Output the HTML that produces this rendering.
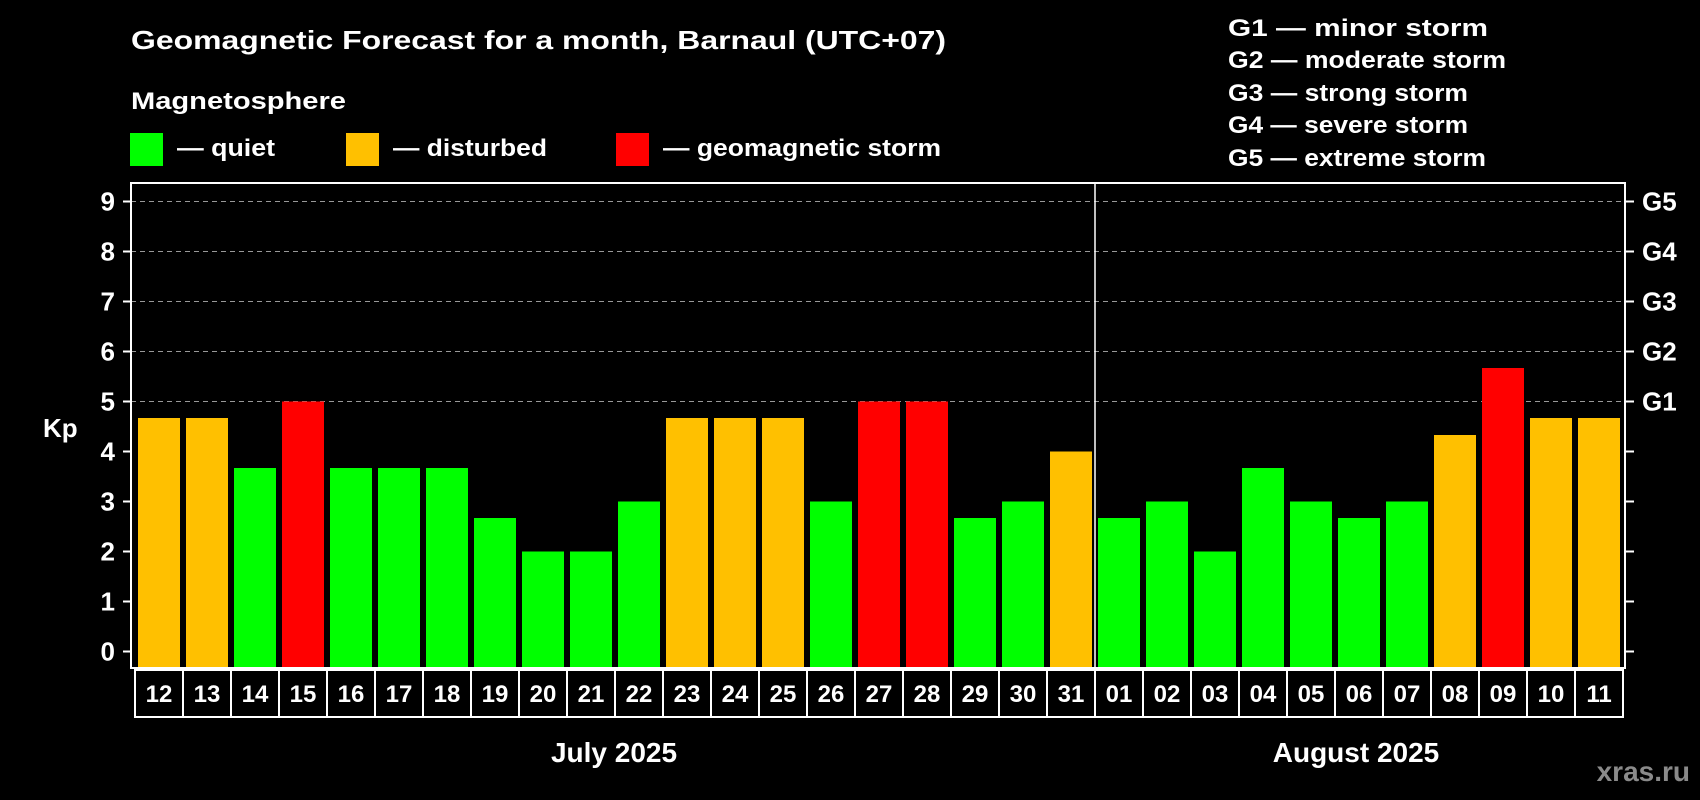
<!DOCTYPE html>
<html><head><meta charset="utf-8"><style>
html,body{margin:0;padding:0;background:#000;}
svg{display:block;font-family:"Liberation Sans",Arial,sans-serif;font-weight:bold;}
</style></head><body>
<svg id="chart" width="1700" height="800" viewBox="0 0 1700 800" xmlns="http://www.w3.org/2000/svg">
<rect width="1700" height="800" fill="#000"/>
<text x="131" y="49" fill="#fff" font-size="26" textLength="815" lengthAdjust="spacingAndGlyphs">Geomagnetic Forecast for a month, Barnaul (UTC+07)</text>
<text x="131" y="109" fill="#fff" font-size="24" textLength="215" lengthAdjust="spacingAndGlyphs">Magnetosphere</text>
<g>
<rect x="130" y="133" width="33" height="33" fill="#00ff00"/>
<text x="177" y="156" fill="#fff" font-size="24" textLength="98" lengthAdjust="spacingAndGlyphs">— quiet</text></g>
<g>
<rect x="346" y="133" width="33" height="33" fill="#ffc000"/>
<text x="393" y="156" fill="#fff" font-size="24" textLength="154" lengthAdjust="spacingAndGlyphs">— disturbed</text></g>
<g>
<rect x="616" y="133" width="33" height="33" fill="#ff0000"/>
<text x="663" y="156" fill="#fff" font-size="24" textLength="278" lengthAdjust="spacingAndGlyphs">— geomagnetic storm</text></g>
<g fill="#fff" font-size="24">
<text x="1228" y="36" textLength="260" lengthAdjust="spacingAndGlyphs">G1 — minor storm</text>
<text x="1228" y="68" textLength="278" lengthAdjust="spacingAndGlyphs">G2 — moderate storm</text>
<text x="1228" y="101" textLength="240" lengthAdjust="spacingAndGlyphs">G3 — strong storm</text>
<text x="1228" y="133" textLength="240" lengthAdjust="spacingAndGlyphs">G4 — severe storm</text>
<text x="1228" y="166" textLength="258" lengthAdjust="spacingAndGlyphs">G5 — extreme storm</text>
</g>
<g id="grid"></g>
<g id="bars"></g>
<g id="axes"></g>
<text x="43" y="437" fill="#fff" font-size="26">Kp</text>
<text x="614" y="762" fill="#fff" font-size="28" text-anchor="middle">July 2025</text>
<text x="1356" y="762" fill="#fff" font-size="28" text-anchor="middle">August 2025</text>
<text x="1690" y="781" fill="#8a8a8a" font-size="28" text-anchor="end">xras.ru</text>
</svg>
<script>
const days = ["12","13","14","15","16","17","18","19","20","21","22","23","24","25","26","27","28","29","30","31","01","02","03","04","05","06","07","08","09","10","11"];
const kpValues = [4.67,4.67,3.67,5,3.67,3.67,3.67,2.67,2,2,3,4.67,4.67,4.67,3,5,5,2.67,3,4,2.67,3,2,3.67,3,2.67,3,4.33,5.67,4.67,4.67];
const yTicks = ["0","1","2","3","4","5","6","7","8","9"];
const gLabels = ["G1","G2","G3","G4","G5"];
const NS="http://www.w3.org/2000/svg";
const plotL=131, plotR=1625, plotT=183, plotB=668, y0=651.5, unit=50, pitch=48, barStart=138, barW=42;
function yS(v){return y0 - v*unit;}
function xS(i){return barStart + i*pitch;}
function mk(tag,attrs,parent){const e=document.createElementNS(NS,tag);for(const k in attrs)e.setAttribute(k,attrs[k]);parent.appendChild(e);return e;}
const grid=document.getElementById('grid'), bars=document.getElementById('bars'), axes=document.getElementById('axes');
for(let v=5;v<=9;v++){
  const l=mk('line',{x1:plotL,x2:plotR,y1:yS(v),y2:yS(v),stroke:'#999','stroke-width':1,'stroke-dasharray':'5,4'},grid);
  
  
}
kpValues.forEach((v,i)=>{
  const c = v>=5 ? '#ff0000' : (v>=4 ? '#ffc000' : '#00ff00');
  const r=mk('rect',{x:xS(i),y:yS(v),width:barW,height:plotB-yS(v),fill:c},bars);
  
  
});
// plot frame
const fr=mk('rect',{x:plotL,y:plotT,width:plotR-plotL,height:plotB-plotT,fill:'none',stroke:'#fff','stroke-width':2},axes);


const dv=mk('line',{x1:xS(20)-3,x2:xS(20)-3,y1:plotT,y2:plotB,stroke:'#fff','stroke-width':1.5},axes);


yTicks.forEach((t,i)=>{
  const v=+t;
  mk('line',{x1:123,x2:plotL,y1:yS(v),y2:yS(v),stroke:'#fff','stroke-width':2},axes);
  mk('line',{x1:plotR,x2:1634,y1:yS(v),y2:yS(v),stroke:'#fff','stroke-width':2},axes);
  const tx=mk('text',{x:115,y:yS(v)+9,fill:'#fff','font-size':26,'text-anchor':'end'},axes);
  tx.textContent=t;
  
  
});
gLabels.forEach((g,i)=>{
  const tx=mk('text',{x:1642,y:yS(5+i)+9,fill:'#fff','font-size':26},axes);
  tx.textContent=g;
  
  
});
days.forEach((d,i)=>{
  const bx=135+i*pitch;
  const cell=mk('rect',{x:bx,y:670,width:pitch,height:47,fill:'none',stroke:'#fff','stroke-width':2},axes);
  
  
  const tx=mk('text',{x:bx+pitch/2,y:702,fill:'#fff','font-size':24,'text-anchor':'middle'},axes);
  tx.textContent=d;
  
  
});
</script>
</body></html>
